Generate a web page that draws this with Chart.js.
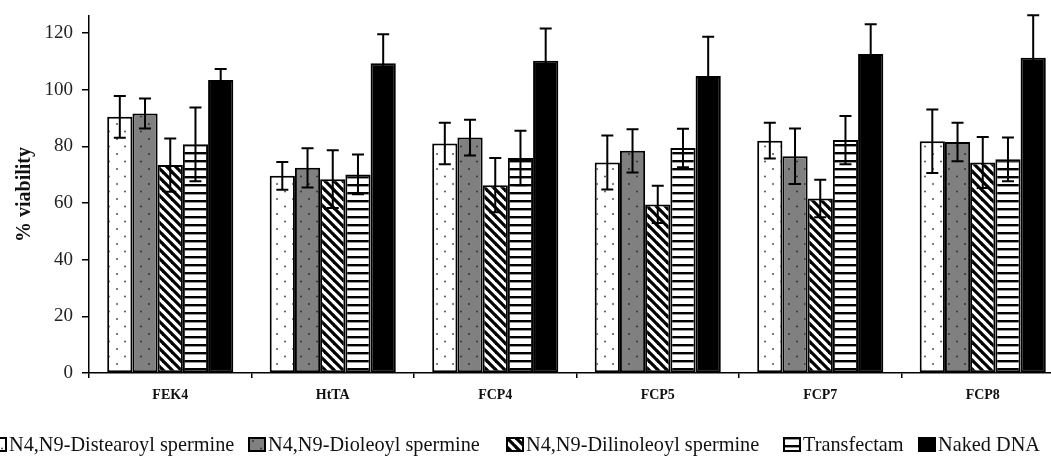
<!DOCTYPE html>
<html>
<head>
<meta charset="utf-8">
<script src="https://cdn.jsdelivr.net/npm/chart.js@4.4.1/dist/chart.umd.min.js"></script>
<style>
  html, body { margin: 0; padding: 0; background: #fff; overflow: hidden; }
  #wrap { position: relative; width: 1051px; height: 460px; overflow: hidden; }
  #c { position: absolute; left: 0; top: 0; }
  .sw { position: absolute; top: 437px; }
  .lt { position: absolute; top: 434px; font-family: "Liberation Serif", "Times New Roman", serif;
        font-size: 20.3px; line-height: 20.5px; color: #111; white-space: nowrap; }
</style>
</head>
<body>
<div id="wrap">
  <canvas id="c" width="1100" height="460"></canvas>
  <div id="legend"></div>
</div>
<script>
// ---- data ----
const categories = ['FEK4', 'HtTA', 'FCP4', 'FCP5', 'FCP7', 'FCP8'];
const seriesNames = ['N4,N9-Distearoyl spermine', 'N4,N9-Dioleoyl spermine', 'N4,N9-Dilinoleoyl spermine', 'Transfectam', 'Naked DNA'];
const distearoyl    = [90.4, 69.6, 81.0, 74.3, 82.0, 81.8];
const distearoylErr = [7.4, 4.9, 7.3, 9.5, 6.3, 11.2];
const dioleoyl      = [91.6, 72.4, 83.1, 78.4, 76.5, 81.5];
const dioleoylErr   = [5.3, 6.9, 6.3, 7.6, 9.8, 6.8];
const dilinoleoyl   = [73.4, 68.4, 66.3, 59.5, 61.6, 74.3];
const dilinoleoylErr= [9.4, 10.2, 9.6, 6.6, 6.6, 9.0];
const transfectam   = [80.7, 70.1, 75.9, 79.4, 82.2, 75.4];
const transfectamErr= [13.0, 7.0, 9.6, 6.8, 8.5, 7.7];
const nakedDNA      = [103.4, 109.3, 110.2, 104.8, 112.6, 111.3];
const nakedDNAErr   = [3.9, 10.3, 11.4, 13.9, 10.5, 15.0];
const yTicks = [0, 20, 40, 60, 80, 100, 120];

// ---- patterns ----
function tile(w, h, draw) {
  const t = document.createElement('canvas');
  t.width = w; t.height = h;
  const g = t.getContext('2d');
  draw(g, w, h);
  return t;
}
function dots(bg, dot) {
  return tile(16, 15, (g, w, h) => {
    g.fillStyle = bg; g.fillRect(0, 0, w, h);
    g.fillStyle = dot;
    g.beginPath(); g.arc(5, 4, 1.0, 0, Math.PI * 2); g.fill();
    g.beginPath(); g.arc(13, 11.5, 1.0, 0, Math.PI * 2); g.fill();
  });
}
function diag() {
  return tile(9, 9, (g, w, h) => {
    g.fillStyle = '#fff'; g.fillRect(0, 0, w, h);
    g.strokeStyle = '#000'; g.lineWidth = 3.2;
    for (const o of [-9, 0, 9]) {
      g.beginPath(); g.moveTo(o - 1, -1); g.lineTo(o + w + 1, h + 1); g.stroke();
    }
  });
}
function horiz() {
  return tile(8, 8, (g, w, h) => {
    g.fillStyle = '#fff'; g.fillRect(0, 0, w, h);
    g.fillStyle = '#000'; g.fillRect(0, 0, w, 2.4);
  });
}
const tiles = [dots('#ffffff', '#555'), dots('#808080', '#333'), diag(), horiz(), null];
const mainCtx = document.getElementById('c').getContext('2d');
function fillFor(i, ctx) {
  if (!tiles[i]) return '#000';
  return ctx.createPattern(tiles[i], 'repeat');
}

const values = [distearoyl, dioleoyl, dilinoleoyl, transfectam, nakedDNA];
const errors = [distearoylErr, dioleoylErr, dilinoleoylErr, transfectamErr, nakedDNAErr];

const datasets = seriesNames.map((name, i) => ({
  label: name,
  data: values[i],
  errors: errors[i],
  backgroundColor: fillFor(i, mainCtx),
  borderColor: '#000',
  borderWidth: 2,
  borderSkipped: false,
  categoryPercentage: 0.776,
  barPercentage: 1.0
}));

const errorBars = {
  id: 'errorBars',
  afterDatasetsDraw(chart) {
    const ctx = chart.ctx;
    const y = chart.scales.y;
    ctx.save();
    ctx.strokeStyle = '#000';
    ctx.lineWidth = 2;
    chart.data.datasets.forEach((ds, di) => {
      const meta = chart.getDatasetMeta(di);
      meta.data.forEach((bar, j) => {
        const v = ds.data[j], e = ds.errors[j];
        const x = bar.x;
        const yt = y.getPixelForValue(v + e);
        const yb = y.getPixelForValue(v - e);
        ctx.beginPath();
        ctx.moveTo(x, yt); ctx.lineTo(x, yb);
        ctx.moveTo(x - 6, yt); ctx.lineTo(x + 6, yt);
        ctx.moveTo(x - 6, yb); ctx.lineTo(x + 6, yb);
        ctx.stroke();
      });
    });
    ctx.restore();
  }
};

new Chart(mainCtx, {
  type: 'bar',
  data: { labels: categories, datasets },
  options: {
    responsive: false,
    animation: false,
    layout: { padding: { top: 16, right: 36, left: 0, bottom: 0 } },
    plugins: { legend: { display: false }, tooltip: { enabled: false } },
    scales: {
      x: {
        afterFit: (s) => { s.height = 87; s.paddingLeft = 0; s.paddingRight = 0; },
        grid: { display: true, drawOnChartArea: false, drawTicks: true, tickLength: 5, color: '#000', lineWidth: 1.5, offset: true },
        border: { display: true, color: '#000', width: 1.5 },
        ticks: { color: '#111', padding: 9, font: { family: 'Liberation Serif', size: 14, weight: 'bold' } }
      },
      y: {
        min: 0, max: 126,
        afterFit: (s) => { s.width = 89; s.paddingTop = 0; s.paddingBottom = 0; },
        afterBuildTicks: (s) => { s.ticks = yTicks.map(v => ({ value: v })); },
        grid: { display: true, drawOnChartArea: false, drawTicks: true, tickLength: 7, color: '#000', lineWidth: 1.5 },
        border: { display: true, color: '#000', width: 1.5 },
        ticks: { color: '#222', padding: 9, font: { family: 'Liberation Serif', size: 19 } },
        title: { display: true, text: '% viability', color: '#111', padding: { top: 13, bottom: 0 },
                 font: { family: 'Liberation Serif', size: 20, weight: 'bold' } }
      }
    }
  },
  plugins: [errorBars]
});

// ---- legend (HTML) ----
const legendBoxLeft = [-11, 248, 506, 783, 918];
const legend = document.getElementById('legend');
seriesNames.forEach((name, i) => {
  const sw = document.createElement('canvas');
  sw.width = 18; sw.height = 15; sw.className = 'sw';
  sw.style.left = legendBoxLeft[i] + 'px';
  const g = sw.getContext('2d');
  g.fillStyle = fillFor(i, g);
  g.fillRect(0, 0, 18, 15);
  g.strokeStyle = '#000'; g.lineWidth = 2;
  g.strokeRect(1, 1, 16, 13);
  legend.appendChild(sw);
  const t = document.createElement('div');
  t.className = 'lt';
  t.style.left = (legendBoxLeft[i] + 20) + 'px';
  t.textContent = name;
  legend.appendChild(t);
});
</script>
</body>
</html>
